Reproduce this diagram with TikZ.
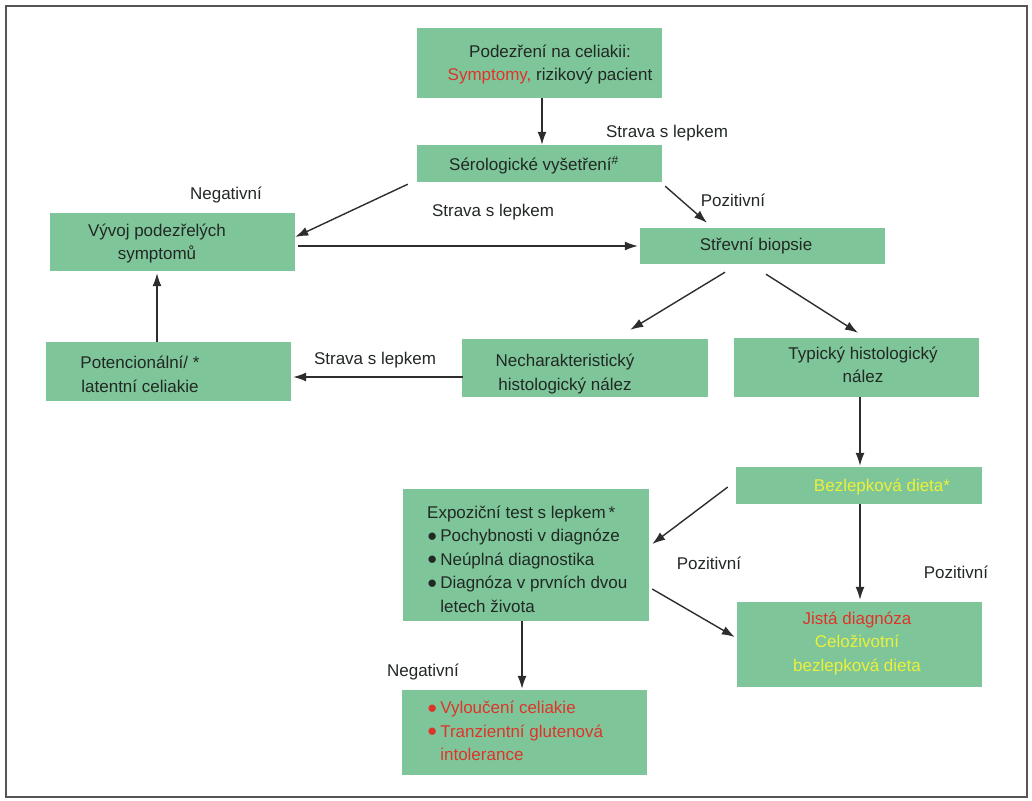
\documentclass[tikz,border=0pt]{standalone}
\usepackage{fontspec}
\setmainfont{Liberation Sans}
\usetikzlibrary{arrows.meta}
\definecolor{boxgreen}{RGB}{126,198,154}
\definecolor{txtdark}{RGB}{34,40,36}
\definecolor{txtred}{RGB}{222,52,42}
\definecolor{txtyellow}{RGB}{236,240,58}
\definecolor{arrowgray}{RGB}{45,45,45}
\definecolor{framegray}{RGB}{85,85,85}
\newcommand{\bul}{\raisebox{0.5pt}{\fontsize{17}{17}\selectfont ●}\,}
\tikzset{
  box/.style={fill=boxgreen, draw=none, inner sep=0pt},
  txt/.style={font=\fontsize{17}{23.5}\selectfont, text=txtdark, align=center, inner sep=0pt},
  lbl/.style={font=\fontsize{17}{19}\selectfont, text=txtdark, inner sep=0pt},
  arr/.style={draw=arrowgray, line width=1.4pt, -{Latex[length=13pt,width=9pt]}},
}
\begin{document}
\begin{tikzpicture}[x=1pt,y=-1pt]
\useasboundingbox (0,0) rectangle (1032,800);
\draw[framegray, line width=2pt] (6,6) rectangle (1027,797);

% boxes
\node[box, minimum width=245, minimum height=70] (A) at (539.5,63) {};
\node[box, minimum width=245, minimum height=37] (B) at (539.5,163.5) {};
\node[box, minimum width=245, minimum height=58] (C) at (172.5,242) {};
\node[box, minimum width=245, minimum height=36] (D) at (762.5,246) {};
\node[box, minimum width=245, minimum height=59] (E) at (168.5,371.5) {};
\node[box, minimum width=246, minimum height=58] (F) at (585,368) {};
\node[box, minimum width=245, minimum height=59] (G) at (856.5,367.5) {};
\node[box, minimum width=246, minimum height=37] (H) at (859,485.5) {};
\node[box, minimum width=246, minimum height=132] (I) at (526,555) {};
\node[box, minimum width=245, minimum height=85] (J) at (859.5,644.5) {};
\node[box, minimum width=245, minimum height=85] (K) at (524.5,732.5) {};

% box texts
\node[txt] (At) at (550,64.5) {Podezření na celiakii:\\\textcolor{txtred}{Symptomy,} rizikový pacient};
\node[txt] (Bt) at (534,165) {Sérologické vyšetření\textsuperscript{\#}};
\node[txt] (Ct) at (157,243.5) {Vývoj podezřelých\\symptomů};
\node[txt] (Dt) at (756,246) {Střevní biopsie};
\node[txt] (Et) at (140,374.5) {Potencionální/ *\\latentní celiakie};
\node[txt] (Ft) at (565,374) {Necharakteristický\\histologický nález};
\node[txt] (Gt) at (863,365) {Typický histologický\\nález};
\node[txt, text=txtyellow] (Ht) at (882,487) {Bezlepková dieta*};
\node[txt, align=left, anchor=west] (It) at (427,559) {Expoziční test s lepkem\,*\\\bul Pochybnosti v diagnóze\\\bul Neúplná diagnostika\\\bul Diagnóza v prvních dvou\\\phantom{\bul}letech života};
\node[txt, text=txtyellow] (Jt) at (857,643) {\textcolor{txtred}{Jistá diagnóza}\\Celoživotní\\bezlepková dieta};
\node[txt, text=txtred, align=left, anchor=west] (Kt) at (427,731) {\bul Vyloučení celiakie\\\bul Tranzientní glutenová\\\phantom{\bul}intolerance};

% connectors
\draw[arr] ([shift={(2.5,0)}]A.south) -- ([shift={(2.5,0)}]B.north);
\draw[arr] ([shift={(-9,2)}]B.south west) -- ([shift={(0,-5)}]C.east);
\draw[arr] ([shift={(3,4)}]C.east) -- ([shift={(-2,0)}]D.west);
\draw[arr] ([shift={(3,4)}]B.south east) -- ([shift={(-55.5,-5)}]D.north);
\draw[arr] ([shift={(-37.5,8)}]D.south) -- ([shift={(-78,-9)}]F.north east);
\draw[arr] ([shift={(3.5,10)}]D.south) -- ([shift={(1.5,-5)}]G.north);
\draw[arr] ([shift={(1,9)}]F.west) -- ([shift={(2,5.5)}]E.east);
\draw[arr] ([shift={(-11.5,0)}]E.north) -- ([shift={(-15.5,2)}]C.south);
\draw[arr] ([shift={(3.5,0)}]G.south) -- ([shift={(1,-1)}]H.north);
\draw[arr] ([shift={(-8,1.5)}]H.west) -- ([shift={(3,-11)}]I.east);
\draw[arr] ([shift={(1,0)}]H.south) -- ([shift={(0.5,-2)}]J.north);
\draw[arr] ([shift={(3,34)}]I.east) -- ([shift={(-2,-7.5)}]J.west);
\draw[arr] ([shift={(-4,0)}]I.south) -- ([shift={(-2.5,-1)}]K.north);

% connector labels
\node[lbl] (l1) at (667,133) {Strava s lepkem};
\node[lbl] (l2) at (226,195) {Negativní};
\node[lbl] (l3) at (493,212) {Strava s lepkem};
\node[lbl] (l4) at (733,200) {Pozitivní};
\node[lbl] (l5) at (375,360) {Strava s lepkem};
\node[lbl] (l6) at (709,563) {Pozitivní};
\node[lbl] (l7) at (956,572) {Pozitivní};
\node[lbl] (l8) at (423,672) {Negativní};
\end{tikzpicture}
\end{document}
